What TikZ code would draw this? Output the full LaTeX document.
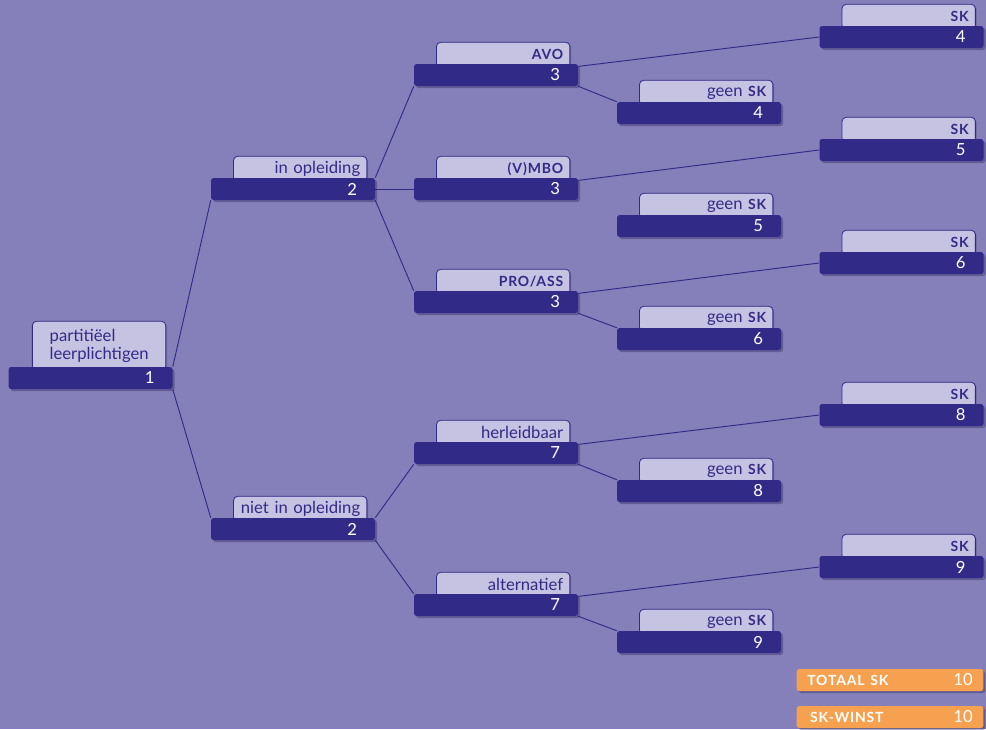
\documentclass[tikz,border=0pt]{standalone}
\usepackage{fontspec}
\setmainfont{Lato}
\usepackage{tikz}
\usetikzlibrary{positioning,shadows,backgrounds}

\definecolor{paars}{RGB}{133,128,185}
\definecolor{donker}{RGB}{50,42,135}
\definecolor{licht}{RGB}{198,194,226}
\definecolor{oranje}{RGB}{246,161,80}
\newcommand{\kap}[1]{{\fontsize{10.5}{12}\selectfont\bfseries\addfontfeature{LetterSpace=6}#1}}

\begin{document}
\begin{tikzpicture}[x=0.75pt, y=-0.75pt,
    every node/.style={font=\fontsize{12.5}{14}\selectfont},
    balk/.style={fill=donker, rounded corners=2pt, text=white, minimum height=16.5pt, text width=96pt, inner xsep=13.5pt, inner ysep=0pt, align=right, drop shadow={shadow xshift=1.5pt, shadow yshift=-1.5pt, opacity=.35, fill=donker!60!black}},
    oranjebalk/.style={balk, fill=oranje, text width=124pt, inner xsep=8pt, align=left},
    tab/.style={draw=donker, line width=.6pt, fill=licht, rounded corners=3pt, text=donker, minimum height=18.75pt, text width=90pt, inner xsep=5pt, inner ysep=0pt, align=right, drop shadow={shadow xshift=1pt, shadow yshift=-1pt, opacity=.25, fill=donker!60!black}},
    tak/.style={donker, line width=.7pt}]

    % balken
    \node[balk] (wortel) at (90.5,378) {1};
    \node[balk] (inopl) at (293,189) {2};
    \node[balk] (niet) at (293,529) {2};
    \node[balk] (avo) at (496,75) {3};
    \node[balk] (vmbo) at (496,189) {3};
    \node[balk] (pro) at (496,302) {3};
    \node[balk] (herl) at (496,453) {7};
    \node[balk] (alt) at (496,605) {7};
    \node[balk] (sk4) at (901.5,37) {4};
    \node[balk] (gsk4) at (699,113) {4};
    \node[balk] (sk5) at (901.5,150) {5};
    \node[balk] (gsk5) at (699,226) {5};
    \node[balk] (sk6) at (901.5,263) {6};
    \node[balk] (gsk6) at (699,339) {6};
    \node[balk] (sk8) at (901.5,415) {8};
    \node[balk] (gsk8) at (699,491) {8};
    \node[balk] (sk9) at (901.5,567) {9};
    \node[balk] (gsk9) at (699,642) {9};
    \node[oranjebalk] (totaal) at (890,680) {\kap{TOTAAL SK}\hfill 10};
    \node[oranjebalk] (winst) at (890,717) {\,\kap{SK-WINST}\hfill 10};

    \begin{scope}[on background layer]
    \fill[paars] (0,0) rectangle (986,729);

    % takken
    \draw[tak] (wortel.north east) -- (inopl.south west);
    \draw[tak] (wortel.south east) -- (niet.north west);
    \draw[tak] (inopl.north east) -- (avo.south west);
    \draw[tak] (inopl.east) -- (vmbo.west);
    \draw[tak] (inopl.south east) -- (pro.north west);
    \draw[tak] (niet.north east) -- (herl.south west);
    \draw[tak] (niet.south east) -- (alt.north west);
    \draw[tak] ([yshift=-2pt]avo.north east) -- (sk4.west);
    \draw[tak] (avo.south east) -- (gsk4.north west);
    \draw[tak] ([yshift=-2pt]vmbo.north east) -- (sk5.west);
    \draw[tak] ([yshift=-2pt]pro.north east) -- (sk6.west);
    \draw[tak] (pro.south east) -- (gsk6.north west);
    \draw[tak] ([yshift=-2pt]herl.north east) -- (sk8.west);
    \draw[tak] (herl.south east) -- (gsk8.north west);
    \draw[tak] ([yshift=-2pt]alt.north east) -- (sk9.west);
    \draw[tak] (alt.south east) -- (gsk9.north west);

    % tabs
    \node[tab, minimum height=36.75pt, text width=74pt, inner xsep=13pt, align=left, above left=-3pt and 5pt of wortel.north east] (wortel-t) {partitiëel\\leerplichtigen};
    \node[tab, above left=-3pt and 6pt of inopl.north east] (inopl-t) {in opleiding};
    \node[tab, above left=-3pt and 6pt of niet.north east] (niet-t) {niet in opleiding};
    \node[tab, above left=-3pt and 6pt of avo.north east] (avo-t) {\kap{AVO}};
    \node[tab, above left=-3pt and 6pt of vmbo.north east] (vmbo-t) {\kap{(V)MBO}};
    \node[tab, above left=-3pt and 6pt of pro.north east] (pro-t) {\kap{PRO/ASS}};
    \node[tab, above left=-3pt and 6pt of herl.north east] (herl-t) {herleidbaar};
    \node[tab, above left=-3pt and 6pt of alt.north east] (alt-t) {alternatief};
    \node[tab, above left=-3pt and 6pt of sk4.north east] (sk4-t) {\kap{SK}};
    \node[tab, above left=-3pt and 6pt of gsk4.north east] (gsk4-t) {geen \kap{SK}};
    \node[tab, above left=-3pt and 6pt of sk5.north east] (sk5-t) {\kap{SK}};
    \node[tab, above left=-3pt and 6pt of gsk5.north east] (gsk5-t) {geen \kap{SK}};
    \node[tab, above left=-3pt and 6pt of sk6.north east] (sk6-t) {\kap{SK}};
    \node[tab, above left=-3pt and 6pt of gsk6.north east] (gsk6-t) {geen \kap{SK}};
    \node[tab, above left=-3pt and 6pt of sk8.north east] (sk8-t) {\kap{SK}};
    \node[tab, above left=-3pt and 6pt of gsk8.north east] (gsk8-t) {geen \kap{SK}};
    \node[tab, above left=-3pt and 6pt of sk9.north east] (sk9-t) {\kap{SK}};
    \node[tab, above left=-3pt and 6pt of gsk9.north east] (gsk9-t) {geen \kap{SK}};
    \end{scope}
    \useasboundingbox (0,0) rectangle (986,729);
\end{tikzpicture}
\end{document}
